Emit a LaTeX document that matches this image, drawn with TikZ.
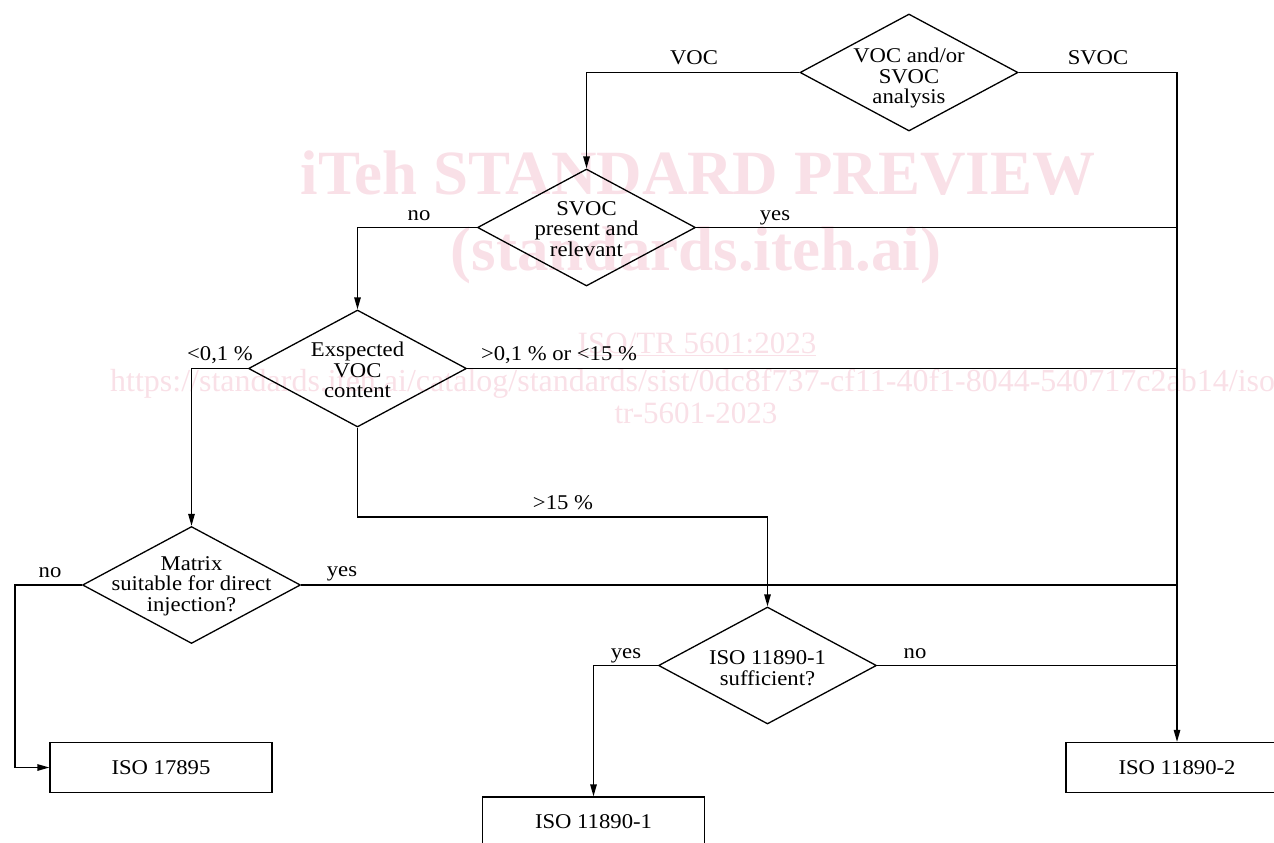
\documentclass[tikz,border=0pt]{standalone}
\usepackage{fontspec}
\setmainfont{Liberation Serif}
\newfontfamily\diafont[FakeStretch=1.08]{Liberation Serif}
\usetikzlibrary{shapes.geometric,arrows.meta}
\definecolor{wm}{RGB}{249,224,231}
\begin{document}
\begin{tikzpicture}[x=1pt,y=-1pt,
  every node/.style={font=\diafont\fontsize{21}{20.5}\selectfont},
  dia/.style={shape=diamond, draw, line width=1.3pt, minimum width=218pt, minimum height=117pt, inner sep=0pt},
  dtext/.style={align=center, inner sep=0pt},
  boxnode/.style={draw, line width=1.3pt, minimum width=222pt, minimum height=50pt, inner sep=0pt},
  conn/.style={line width=1.3pt},
  arr/.style={conn, -{Triangle[length=12pt,width=6.5pt]}},
  lab/.style={anchor=base, inner sep=0pt},
  wmbig/.style={text=wm, font=\fontsize{63}{63}\selectfont\bfseries, inner sep=0pt, anchor=base},
  wmsmall/.style={text=wm, font=\fontsize{31}{31}\selectfont, inner sep=0pt, anchor=base}
]
\useasboundingbox (0,0) rectangle (1274,843);
\clip (0,0) rectangle (1274,843);

% watermark
\node[wmbig] (wm1) at (698,194) {iTeh STANDARD PREVIEW};
\node[wmbig] (wm2) at (696,270) {(standards.iteh.ai)};
\node[wmsmall] (wm3) at (697,353) {\underline{ISO/TR 5601:2023}};
\node[wmsmall, font=\fontsize{32}{32}\selectfont, anchor=base west] (wm4) at (110,391) {https://standards.iteh.ai/catalog/standards/sist/0dc8f737-cf11-40f1-8044-540717c2ab14/iso};
\node[wmsmall] (wm5) at (696,423) {tr-5601-2023};

% decisions
\node[dia] (d1) at (909,72.5) {};
\node[dtext] (t1) at (909,78) {VOC and/or\\SVOC\\analysis};
\node[dia] (d2) at (586.5,227.5) {};
\node[dtext] (t2) at (586.5,229) {SVOC\\present and\\relevant};
\node[dia] (d3) at (357.5,368.5) {};
\node[dtext] (t3) at (357.5,370) {Exspected\\VOC\\content};
\node[dia] (d4) at (191.5,585) {};
\node[dtext] (t4) at (191.5,586) {Matrix\\suitable for direct\\injection?};
\node[dia] (d5) at (767.5,665.5) {};
\node[dtext] (t5) at (767.5,668) {ISO 11890-1\\sufficient?};

% results
\node[boxnode] (b1) at (161,767.5) {ISO 17895};
\node[boxnode] (b2) at (593.5,822) {ISO 11890-1};
\node[boxnode] (b3) at (1177,767.5) {ISO 11890-2};

% bends
\coordinate (k1) at (357.5,517);
\coordinate (k2) at (15,585);

% connectors
\draw[arr] (d1.west) -| (d2.north);
\draw[arr] (d1.east) -| (b3.north);
\draw[arr] (d2.west) -| (d3.north);
\draw[conn] (d2.east) -- (d2.east -| b3.north);
\draw[arr] (d3.west) -| (d4.north);
\draw[conn] (d3.east) -- (d3.east -| b3.north);
\draw[arr] (d3.south) -- (k1) -| (d5.north);
\draw[conn] (d4.east) -- (d4.east -| b3.north);
\draw[arr] (d4.west) -- (k2) |- (b1.west);
\draw[arr] (d5.west) -| (b2.north);
\draw[conn] (d5.east) -- (d5.east -| b3.north);

% labels
\node[lab] (l1) at (694,65) {VOC};
\node[lab] (l2) at (1098,65) {SVOC};
\node[lab] (l3) at (419,220) {no};
\node[lab] (l4) at (775,220) {yes};
\node[lab] (l5) at (220,360) {<0,1 \%};
\node[lab] (l6) at (559,360) {>0,1 \% or <15 \%};
\node[lab] (l7) at (563,509) {>15 \%};
\node[lab] (l8) at (50,577) {no};
\node[lab] (l9) at (342,576) {yes};
\node[lab] (l10) at (626,658) {yes};
\node[lab] (l11) at (915,658) {no};
\end{tikzpicture}
\end{document}
